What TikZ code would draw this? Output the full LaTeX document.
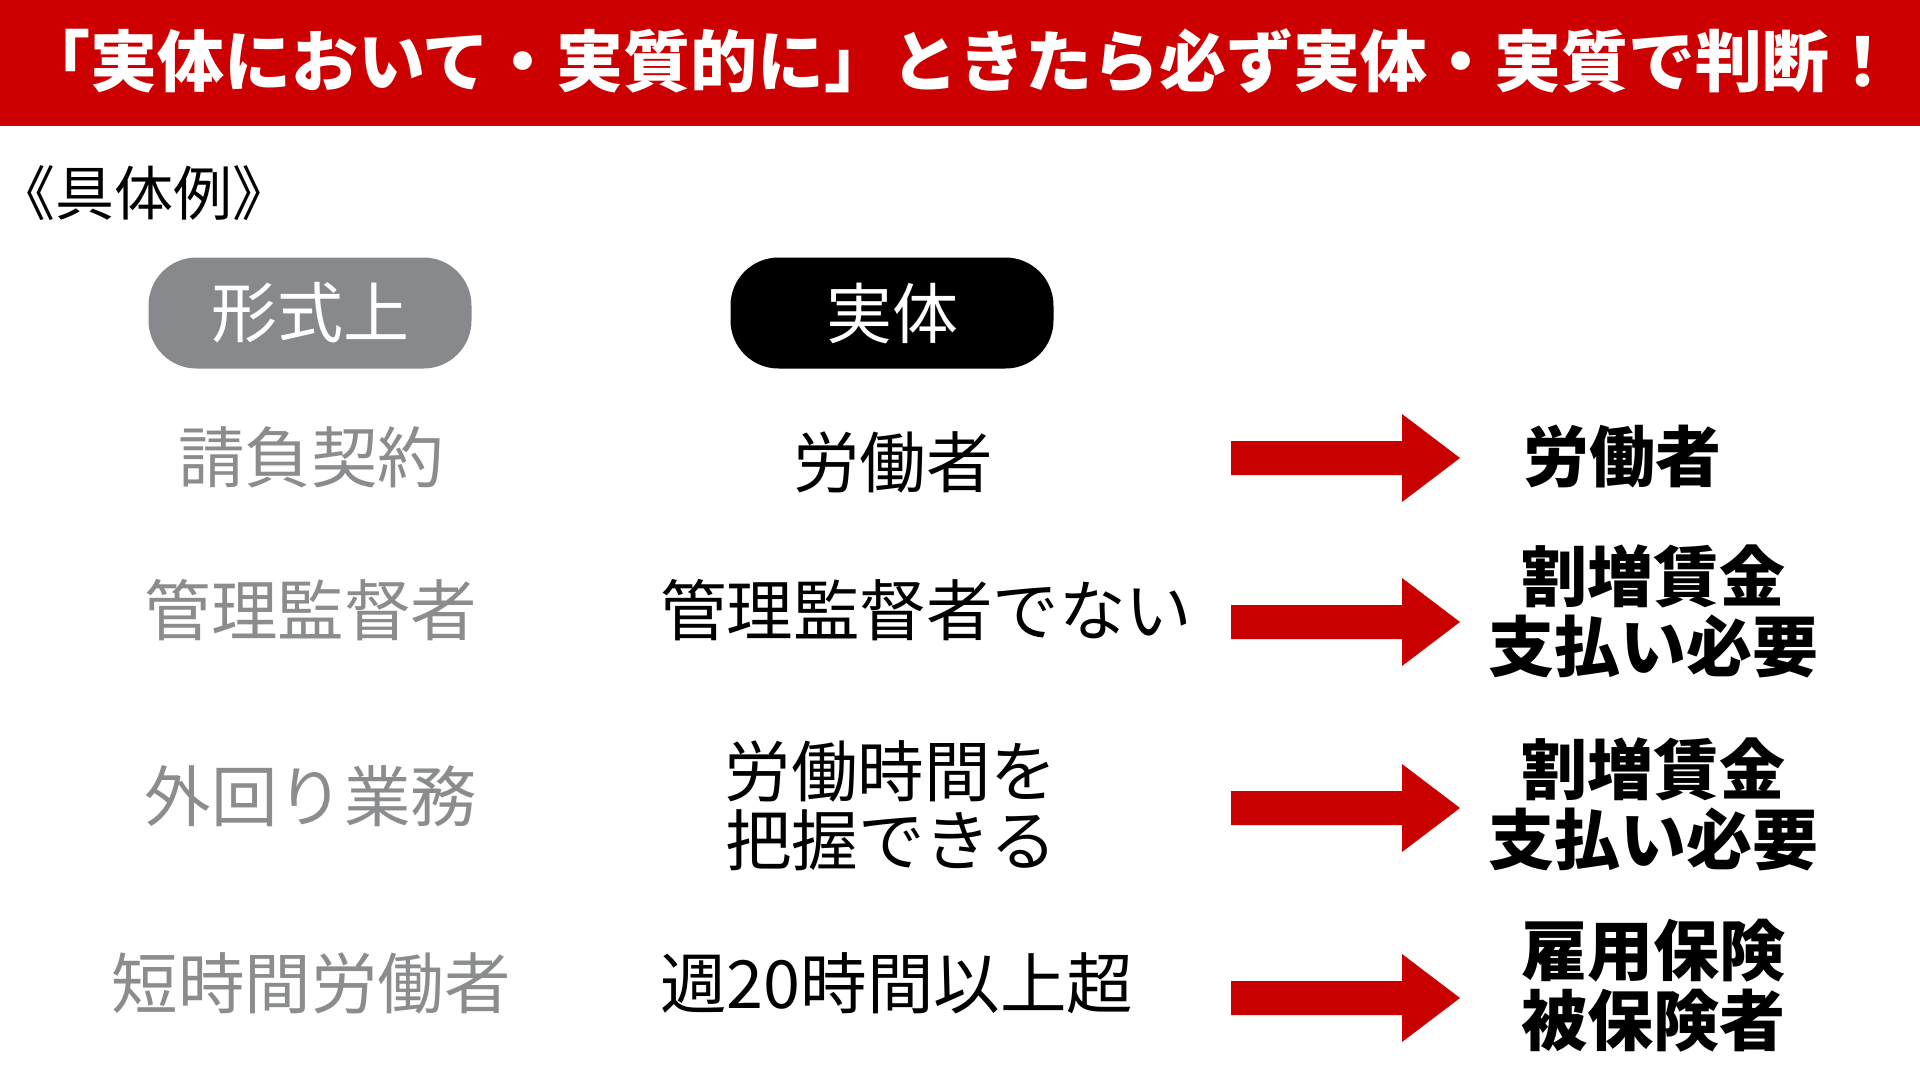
\documentclass[tikz,border=0pt]{standalone}
\usepackage{fontspec}
\setmainfont{Noto Sans CJK JP}
\definecolor{bannerred}{HTML}{CC0000}
\definecolor{arrowred}{HTML}{C80000}
\definecolor{boxgray}{HTML}{87898C}
\definecolor{textgray}{HTML}{8A8C8E}
\tikzset{
  title/.style={text=white, inner sep=0pt, font=\fontsize{67}{71}\selectfont\bfseries},
  headbox/.style={rounded corners=48pt, minimum width=323pt, minimum height=111pt,
    text=white, inner sep=0pt, font=\fontsize{66}{70}\selectfont},
  formal/.style={text=textgray, inner sep=0pt, font=\fontsize{66.5}{70}\selectfont},
  actual/.style={text=black, inner sep=0pt, align=center, font=\fontsize{66.5}{69}\selectfont},
  result/.style={text=black, inner sep=0pt, align=center, font=\fontsize{66}{70}\selectfont\bfseries},
}
\begin{document}
\begin{tikzpicture}[x=1pt,y=-1pt]
  \useasboundingbox (0,0) rectangle (1920,1080);
  \fill[bannerred] (0,0) rectangle (1920,126);
  \node[title] (title) at (960,61) {「実体において・実質的に」ときたら必ず実体・実質で判断！};
  \node[anchor=west, inner sep=0pt, font=\fontsize{59}{63}\selectfont] (example) at (-4,193) {《具体例》};
  \node[headbox, fill=boxgray] (formal) at (310,313) {形式上};
  \node[headbox, fill=black] (actual) at (892,313) {実体};
  \node[formal] (f1) at (311,457) {請負契約};
  \node[formal] (f2) at (311,610) {管理監督者};
  \node[formal] (f3) at (311,796) {外回り業務};
  \node[formal] (f4) at (311,983) {短時間労働者};
  \node[actual] (a1) at (893,462) {労働者};
  \node[actual, anchor=west] (a2) at (660,610) {管理監督者でない};
  \node[actual] (a3) at (891,806) {労働時間を\\把握できる};
  \node[actual, anchor=west] (a4) at (660,983) {週20時間以上超};
  \node[result] (r1) at (1622,457) {労働者};
  \node[result] (r2) at (1653,611) {割増賃金\\支払い必要};
  \node[result] (r3) at (1653,804) {割増賃金\\支払い必要};
  \node[result] (r4) at (1653,986) {雇用保険\\被保険者};
  \foreach \y in {458,622,808,998}
    \fill[arrowred] (1231,\y-17) -- (1402,\y-17) -- (1402,\y-44) -- (1460,\y)
      -- (1402,\y+44) -- (1402,\y+17) -- (1231,\y+17) -- cycle;
\end{tikzpicture}
\end{document}
